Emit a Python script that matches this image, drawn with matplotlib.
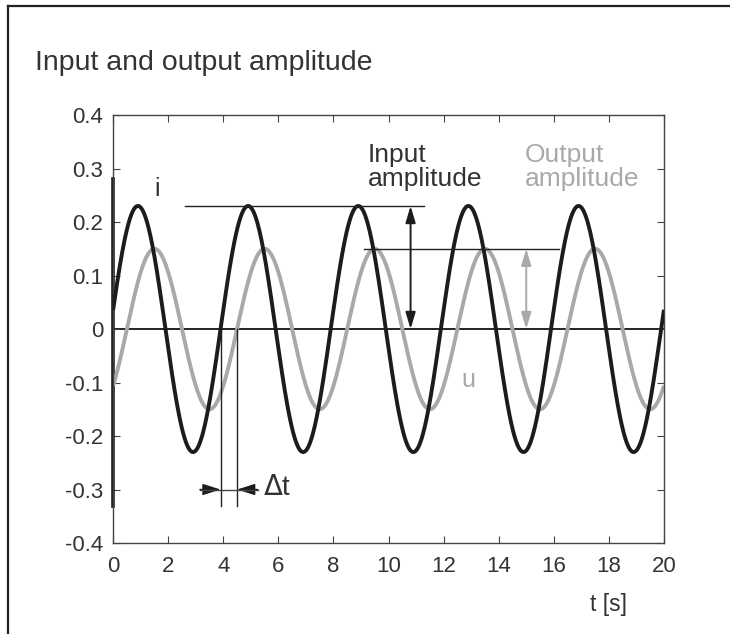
import numpy as np
import matplotlib
matplotlib.use("Agg")
from matplotlib import pyplot as plt
from matplotlib.lines import Line2D

plt.rcParams['font.family'] = ['Liberation Sans', 'DejaVu Sans']

# signal parameters (seconds / amplitude units)
t_end = 20.0
period = 4.0
input_amp = 0.23
output_amp = 0.15
input_rise = 3.9     # upward zero crossing of the input
delta_t = 0.6        # output lags input by this much
edge_span = [-0.33, 0.28]

xticks = [0, 2, 4, 6, 8, 10, 12, 14, 16, 18, 20]
yticks = [-0.4, -0.3, -0.2, -0.1, 0, 0.1, 0.2, 0.3, 0.4]
ytick_labels = ['-0.4', '-0.3', '-0.2', '-0.1', '0', '0.1', '0.2', '0.3', '0.4']

t = np.linspace(0, t_end, 1201)
i_sig = input_amp * np.sin(2 * np.pi * (t - input_rise) / period)
u_sig = output_amp * np.sin(2 * np.pi * (t - input_rise - delta_t) / period)

BLACK = '#1c1c1c'
GRAY = '#a9a9a9'
TXT = '#333333'

fig = plt.figure(figsize=(7.30, 6.34), dpi=100)
ax = fig.add_axes([0.155, 0.1435, 0.7545, 0.6751])

# outer frame: only top and left edges
fig.add_artist(Line2D([8 / 730, 8 / 730], [0, 1 - 6 / 634], transform=fig.transFigure,
                      color='#222222', lw=1.6))
fig.add_artist(Line2D([8 / 730, 1], [1 - 6 / 634, 1 - 6 / 634], transform=fig.transFigure,
                      color='#222222', lw=1.6))

fig.text(35 / 730, 1 - 63 / 634, 'Input and output amplitude', fontsize=20.5,
         color=TXT, va='center', ha='left')

ax.axhline(0, color='#222222', lw=1.4, zorder=1)
ax.plot([0, 0], edge_span, color=BLACK, lw=2.6, clip_on=False, zorder=2)
ax.plot(t, u_sig, color=GRAY, lw=2.8, zorder=2, solid_capstyle='butt')
ax.plot(t, i_sig, color=BLACK, lw=2.8, zorder=3, solid_capstyle='butt')

# amplitude reference lines and arrows
i_peak_t = input_rise + period / 4
u_peak_t = i_peak_t + delta_t
ax.plot([i_peak_t - 2.3, i_peak_t + 6.4], [input_amp, input_amp], color='#222222', lw=1.0, zorder=4)
ax.plot([u_peak_t + 3.6, u_peak_t + 10.7], [output_amp, output_amp], color='#222222', lw=1.0, zorder=4)

arrow_kw = dict(arrowstyle='<|-|>,head_length=1.0,head_width=0.3', lw=1.4, shrinkA=0, shrinkB=0)
ax.annotate('', xy=(10.8, 0), xytext=(10.8, input_amp),
            arrowprops=dict(color=BLACK, **arrow_kw), zorder=5)
ax.annotate('', xy=(15.0, 0), xytext=(15.0, output_amp),
            arrowprops=dict(color=GRAY, **arrow_kw), zorder=5)

ax.text(9.25, 0.302, 'Input\namplitude', fontsize=19, color=TXT,
        ha='left', va='center', linespacing=1.0)
ax.text(14.95, 0.302, 'Output\namplitude', fontsize=19, color=GRAY,
        ha='left', va='center', linespacing=1.0)
ax.text(1.6, 0.262, 'i', fontsize=18, color=TXT, ha='center', va='center')
ax.text(12.9, -0.095, 'u', fontsize=18, color=GRAY, ha='center', va='center')

# phase shift markers
t_a = input_rise
t_b = input_rise + delta_t
ax.plot([t_a, t_a], [0, -0.33], color='#222222', lw=1.0, zorder=4)
ax.plot([t_b, t_b], [0, -0.33], color='#222222', lw=1.0, zorder=4)
ax.plot([t_a - 0.75, t_b + 0.75], [-0.3, -0.3], color='#444444', lw=1.0, zorder=4)
ax.annotate('', xy=(t_a, -0.3), xytext=(t_a - 0.75, -0.3),
            arrowprops=dict(arrowstyle='-|>,head_length=1.1,head_width=0.35', color=BLACK,
                            lw=1.0, shrinkA=0, shrinkB=0))
ax.annotate('', xy=(t_b, -0.3), xytext=(t_b + 0.75, -0.3),
            arrowprops=dict(arrowstyle='-|>,head_length=1.1,head_width=0.35', color=BLACK,
                            lw=1.0, shrinkA=0, shrinkB=0))
ax.text(t_b + 0.95, -0.297, r'$\Delta$t', fontsize=20, color=TXT, ha='left', va='center')

ax.set_xlim(0, t_end)
ax.set_ylim(-0.4, 0.4)
ax.set_xticks(xticks)
ax.set_yticks(yticks)
ax.set_yticklabels(ytick_labels)
ax.tick_params(direction='in', length=5, width=0.8, color='#444444', labelsize=16,
               labelcolor=TXT, top=True, right=True)
ax.tick_params(axis='x', pad=9)
ax.tick_params(axis='y', pad=7)
for s in ax.spines.values():
    s.set_color('#444444')
    s.set_linewidth(1.0)

fig.text(608 / 730, 1 - 605 / 634, 't [s]', fontsize=16.5, color=TXT, ha='center', va='center')

fig.savefig('out.png', dpi=100)
